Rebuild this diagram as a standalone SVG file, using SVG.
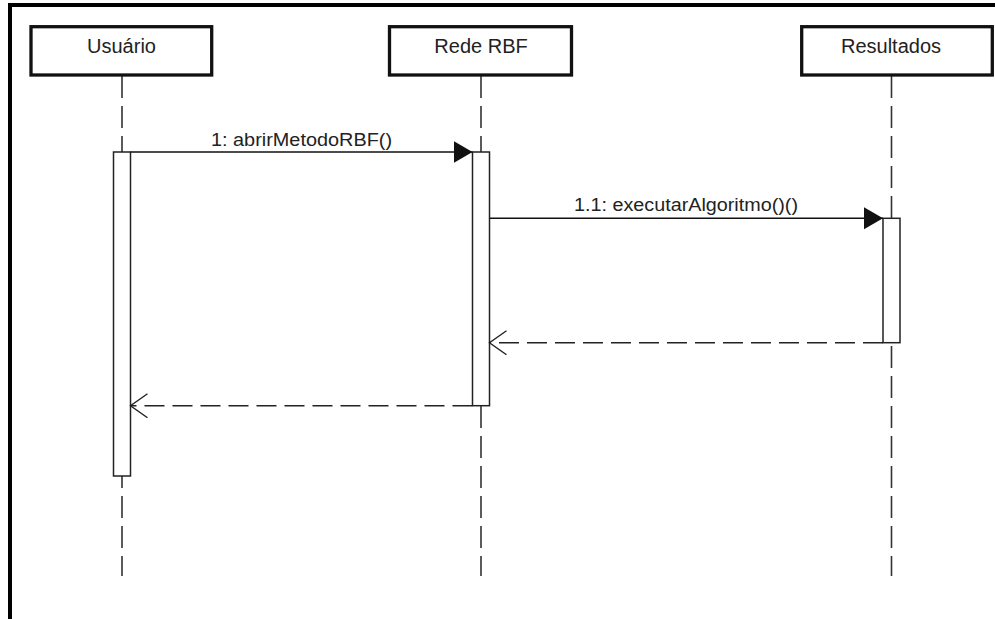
<svg xmlns="http://www.w3.org/2000/svg" width="995" height="619" viewBox="0 0 995 619">
  <style>
    .head { fill: #ffffff; stroke: #111111; stroke-width: 3.3; }
    .life { stroke: #333333; stroke-width: 1.6; stroke-dasharray: 22 8; fill: none; }
    .act { fill: #ffffff; stroke: #222222; stroke-width: 1.5; }
    .call { stroke: #111111; stroke-width: 1.4; fill: none; }
    .reply { stroke: #222222; stroke-width: 1.4; fill: none; stroke-dasharray: 20 8; }
    .title { font-family: "Liberation Sans", Arial, sans-serif; font-size: 20px; fill: #222222; text-anchor: middle; }
    .msg { font-family: "Liberation Sans", Arial, sans-serif; font-size: 17.5px; fill: #222222; }
  </style>
  <defs>
    <marker id="solidHead" markerUnits="userSpaceOnUse" markerWidth="20" markerHeight="24" refX="19" refY="11" orient="auto">
      <path d="M0,0 L19,11 L0,22 Z" fill="#111111"/>
    </marker>
    <marker id="openHead" markerUnits="userSpaceOnUse" markerWidth="20" markerHeight="26" refX="17" refY="12" orient="auto">
      <path d="M0,0 L17,12 L0,24" fill="none" stroke="#222222" stroke-width="1.4"/>
    </marker>
  </defs>

  <rect x="0" y="0" width="995" height="619" fill="#ffffff"/>
  <!-- frame edge (top and left) -->
  <path d="M10,619 V5 H995" fill="none" stroke="#000000" stroke-width="4"/>

  <g id="usuario">
    <line class="life" x1="122" y1="76" x2="122" y2="576"/>
    <rect class="head" x="31" y="26.7" width="180.7" height="48.3"/>
    <text class="title" x="121.5" y="53">Usuário</text>
    <rect class="act" x="113.5" y="152" width="17" height="324"/>
  </g>

  <g id="rede-rbf">
    <line class="life" x1="481" y1="76" x2="481" y2="576"/>
    <rect class="head" x="389.5" y="26.7" width="182" height="48.3"/>
    <text class="title" x="481" y="53">Rede RBF</text>
    <rect class="act" x="472.5" y="152" width="17" height="253.7"/>
  </g>

  <g id="resultados">
    <line class="life" x1="891.5" y1="76" x2="891.5" y2="576"/>
    <rect class="head" x="801.7" y="26.7" width="190.6" height="48.3"/>
    <text class="title" x="891" y="53">Resultados</text>
    <rect class="act" x="883" y="218.3" width="17" height="124.4"/>
  </g>

  <g id="connectors">
    <line class="call" x1="130.5" y1="152" x2="472.5" y2="152" marker-end="url(#solidHead)"/>
    <text class="msg" x="211" y="146" textLength="181" lengthAdjust="spacingAndGlyphs">1: abrirMetodoRBF()</text>

    <line class="call" x1="489.5" y1="218.3" x2="883" y2="218.3" marker-end="url(#solidHead)"/>
    <text class="msg" x="574" y="210.7" textLength="224" lengthAdjust="spacingAndGlyphs">1.1: executarAlgoritmo()()</text>

    <line class="reply" x1="883" y1="342.7" x2="489.5" y2="342.7" marker-end="url(#openHead)"/>
    <line class="reply" x1="472.5" y1="405.7" x2="130.5" y2="405.7" marker-end="url(#openHead)"/>
  </g>
</svg>
